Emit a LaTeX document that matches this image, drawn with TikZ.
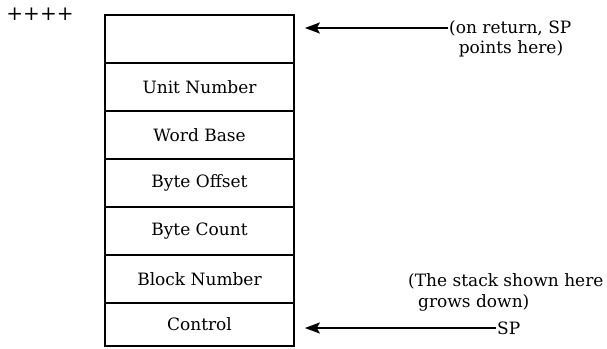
\documentclass[tikz,border=0pt]{standalone}
\usepackage{fontspec}
\setmainfont{DejaVu Serif}
\usetikzlibrary{arrows.meta}
\begin{document}
\begin{tikzpicture}[x=1pt,y=-1pt,
  cell/.style={draw, line width=1.7pt, minimum width=189pt, minimum height=48pt,
    inner sep=0pt, font=\fontsize{17}{20}\selectfont},
  lbl/.style={inner sep=1pt, font=\fontsize{17}{20}\selectfont},
  pointer/.style={line width=1.9pt, -{Stealth[length=15pt,width=11pt,inset=3pt]}, shorten >=10pt}]
\useasboundingbox (0,0) rectangle (607,348);
% stack frame, one cell per word
\node[cell] (top)   at (199.5,39)  {};
\node[cell] (unit)  at (199.5,87)  {Unit Number};
\node[cell] (word)  at (199.5,135) {Word Base};
\node[cell] (boff)  at (199.5,183) {Byte Offset};
\node[cell] (bcnt)  at (199.5,231) {Byte Count};
\node[cell] (block) at (199.5,279) {Block Number};
\node[cell, minimum height=43pt] (ctrl) at (199.5,324.5) {Control};
% labels
\node[lbl, font=\fontsize{20}{22}\selectfont] (plus) at (40,14) {++++};
\node[lbl, anchor=west] (ret1) at (448,28) {(on return, SP};
\node[lbl] (ret2) at (511,49) {points here)};
\node[lbl, anchor=west] (note1) at (407,281) {(The stack shown here};
\node[lbl, anchor=west] (note2) at (417,303) {grows down)};
\node[lbl, anchor=west] (sp) at (496,328) {SP};
% pointers into the stack
\draw[pointer] (ret1.west) -- (top.east |- ret1.west);
\draw[pointer] (sp.west) -- (ctrl.east |- sp.west);
\end{tikzpicture}
\end{document}
